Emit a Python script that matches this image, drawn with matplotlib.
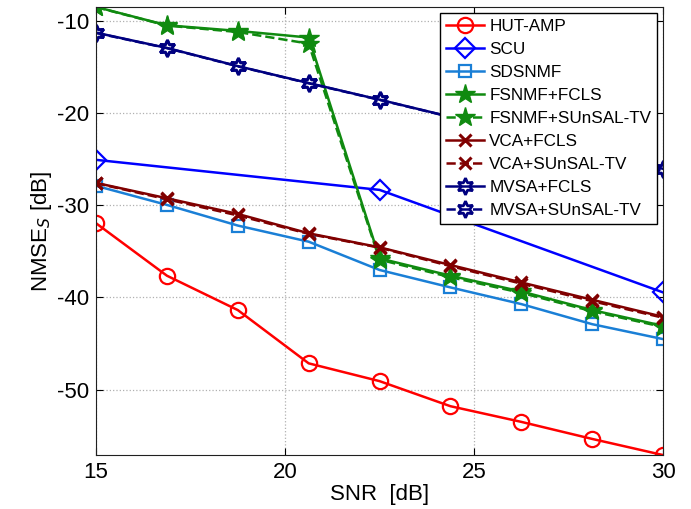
import matplotlib
matplotlib.use('Agg')
import matplotlib.pyplot as plt

plt.rcParams['font.family'] = ['Liberation Sans', 'DejaVu Sans']
plt.rcParams['axes.unicode_minus'] = False

snr = [15, 16.875, 18.75, 20.625, 22.5, 24.375, 26.25, 28.125, 30]
snr_scu = [15, 22.5, 30]

hut_amp = [-31.95, -37.64, -41.37, -47.15, -49.08, -51.8, -53.5, -55.35, -57.1]
scu = [-25.07, -28.33, -39.45]
sdsnmf = [-27.89, -29.96, -32.2, -33.95, -37.02, -38.91, -40.72, -42.9, -44.52]
fsnmf_fcls = [-8.48, -10.47, -11.08, -11.8, -35.76, -37.64, -39.35, -41.37, -43.08]
fsnmf_sunsal = [-8.5, -10.5, -11.2, -12.46, -35.9, -37.8, -39.5, -41.5, -43.2]
vca_fcls = [-27.57, -29.24, -30.94, -33.04, -34.56, -36.48, -38.37, -40.25, -42.1]
vca_sunsal = [-27.6, -29.35, -31.1, -33.1, -34.6, -36.6, -38.5, -40.4, -42.2]
mvsa_fcls = [-11.27, -12.93, -14.9, -16.74, -18.54, -20.4, -22.3, -24.2, -26.04]
mvsa_sunsal = [-11.3, -12.95, -14.92, -16.76, -18.56, -20.42, -22.32, -24.22, -26.06]

fig = plt.figure(figsize=(6.91, 5.09), dpi=100)
ax = fig.add_axes([0.139, 0.106, 0.8205, 0.880])

lw = 1.8
hexa = (6, 1, 0)
ax.plot(snr, hut_amp, '-', color='#ff0000', lw=lw, marker='o', ms=11, mfc='none', mew=1.6, label='HUT-AMP')
ax.plot(snr_scu, scu, '-', color='#0000ff', lw=lw, marker='D', ms=10, mfc='none', mew=1.6, label='SCU')
ax.plot(snr, sdsnmf, '-', color='#1a7fd6', lw=lw, marker='s', ms=9, mfc='none', mew=1.6, label='SDSNMF')
ax.plot(snr, fsnmf_fcls, '-', color='#108a10', lw=lw, marker='*', ms=15, label='FSNMF+FCLS')
ax.plot(snr, fsnmf_sunsal, '--', color='#108a10', lw=lw, marker='*', ms=15, label='FSNMF+SUnSAL-TV')
ax.plot(snr, vca_fcls, '-', color='#800000', lw=lw, marker='x', ms=9, mew=2.2, label='VCA+FCLS')
ax.plot(snr, vca_sunsal, '--', color='#800000', lw=lw, marker='x', ms=9, mew=2.2, label='VCA+SUnSAL-TV')
ax.plot(snr, mvsa_fcls, '-', color='#000080', lw=lw, marker=hexa, ms=12, mfc='none', mew=2.0, label='MVSA+FCLS')
ax.plot(snr, mvsa_sunsal, '--', color='#000080', lw=lw, marker=hexa, ms=12, mfc='none', mew=2.0, label='MVSA+SUnSAL-TV')

ax.set_xlim(15, 30)
ax.set_ylim(-57.1, -8.5)
ax.set_xticks([15, 20, 25, 30])
ax.set_yticks([-50, -40, -30, -20, -10])
ax.grid(True, linestyle=':', color='#b0b0b0', lw=0.9)
ax.tick_params(direction='in', top=True, right=True, labelsize=16, length=5, pad=5)
for s in ax.spines.values():
    s.set_color('#202020')

ax.set_xlabel('SNR  [dB]', fontsize=16, labelpad=1)
ax.set_ylabel('NMSE$_S$ [dB]', fontsize=16, labelpad=2)

leg = ax.legend(loc='upper right', bbox_to_anchor=(0.951, 0.974), bbox_transform=fig.transFigure,
                borderaxespad=0, fontsize=12.3, fancybox=False, edgecolor='black',
                framealpha=1, handlelength=2.2, labelspacing=0.47, handletextpad=0.3,
                borderpad=0.35)
leg.get_frame().set_linewidth(1.0)

fig.savefig('out.png', dpi=100)
